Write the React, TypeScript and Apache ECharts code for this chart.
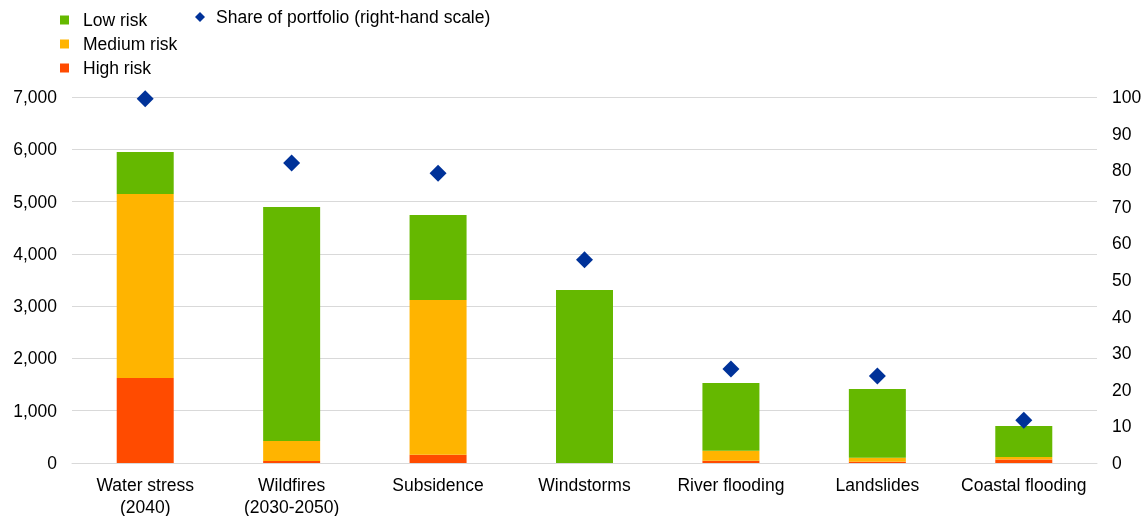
import React, { useEffect, useRef } from "react";
import * as echarts from "echarts";

const categories = ["Water stress\n(2040)", "Wildfires\n(2030-2050)", "Subsidence", "Windstorms", "River flooding", "Landslides", "Coastal flooding"];
const highRisk = [1625, 40, 160, 0, 45, 25, 65];
const mediumRisk = [3520, 380, 2957, 0, 190, 75, 50];
const lowRisk = [805, 4475, 1625, 3308, 1295, 1315, 592];
const sharePortfolio = [99.5, 82, 79.2, 55.5, 25.7, 23.8, 11.7];
const leftTicks = { min: 0, max: 7000, interval: 1000 };
const rightTicks = { min: 0, max: 100, interval: 10 };

const FONT = "Liberation Sans, Arial, sans-serif";

export default function App() {
  const ref = useRef<HTMLDivElement>(null);
  useEffect(() => {
    const chart = echarts.init(ref.current!, undefined, { renderer: "svg" });
    chart.setOption({
      animation: false,
      textStyle: { fontFamily: FONT },
      legend: [
        {
          orient: "vertical",
          left: 60,
          top: 11,
          padding: 0,
          itemWidth: 9,
          itemHeight: 9,
          itemGap: 6,
          icon: "rect",
          data: ["Low risk", "Medium risk", "High risk"],
          textStyle: { fontSize: 17.5, color: "#000", fontFamily: FONT, padding: [0, 0, 0, 9] },
        },
        {
          left: 195,
          top: 8,
          padding: 0,
          itemWidth: 10,
          itemHeight: 10,
          data: [{ name: "Share of portfolio (right-hand scale)", icon: "diamond" }],
          textStyle: { fontSize: 17.5, color: "#000", fontFamily: FONT, padding: [0, 0, 0, 6] },
        },
      ],
      grid: { left: 72, right: 48, top: 97, bottom: 53, outerBoundsMode: "none", containLabel: false },
      xAxis: {
        type: "category",
        data: categories,
        axisTick: { show: false },
        axisLine: { lineStyle: { color: "#d9d9d9" } },
        axisLabel: { fontSize: 17.5, color: "#000", fontFamily: FONT, margin: 11, lineHeight: 22, interval: 0 },
      },
      yAxis: [
        {
          type: "value",
          ...leftTicks,
          axisLabel: {
            fontSize: 17.5,
            color: "#000",
            fontFamily: FONT,
            margin: 15,
            formatter: (v: number) => v.toLocaleString("en-US"),
          },
          splitLine: { lineStyle: { color: "#d9d9d9" } },
          axisLine: { show: false },
          axisTick: { show: false },
        },
        {
          type: "value",
          ...rightTicks,
          position: "right",
          axisLabel: { fontSize: 17.5, color: "#000", fontFamily: FONT, margin: 15 },
          splitLine: { show: false },
          axisLine: { show: false },
          axisTick: { show: false },
        },
      ],
      series: [
        { name: "High risk", type: "bar", stack: "risk", data: highRisk, barWidth: 57, itemStyle: { color: "#FF4B00" } },
        { name: "Medium risk", type: "bar", stack: "risk", data: mediumRisk, barWidth: 57, itemStyle: { color: "#FFB400" } },
        { name: "Low risk", type: "bar", stack: "risk", data: lowRisk, barWidth: 57, itemStyle: { color: "#65B800" } },
        {
          name: "Share of portfolio (right-hand scale)",
          type: "scatter",
          yAxisIndex: 1,
          data: sharePortfolio,
          symbol: "diamond",
          symbolSize: 17,
          itemStyle: { color: "#003299", opacity: 1 },
        },
      ],
    });
    return () => chart.dispose();
  }, []);
  return <div ref={ref} style={{ position: "fixed", left: 0, top: 0, width: 1145, height: 516 }} />;
}
